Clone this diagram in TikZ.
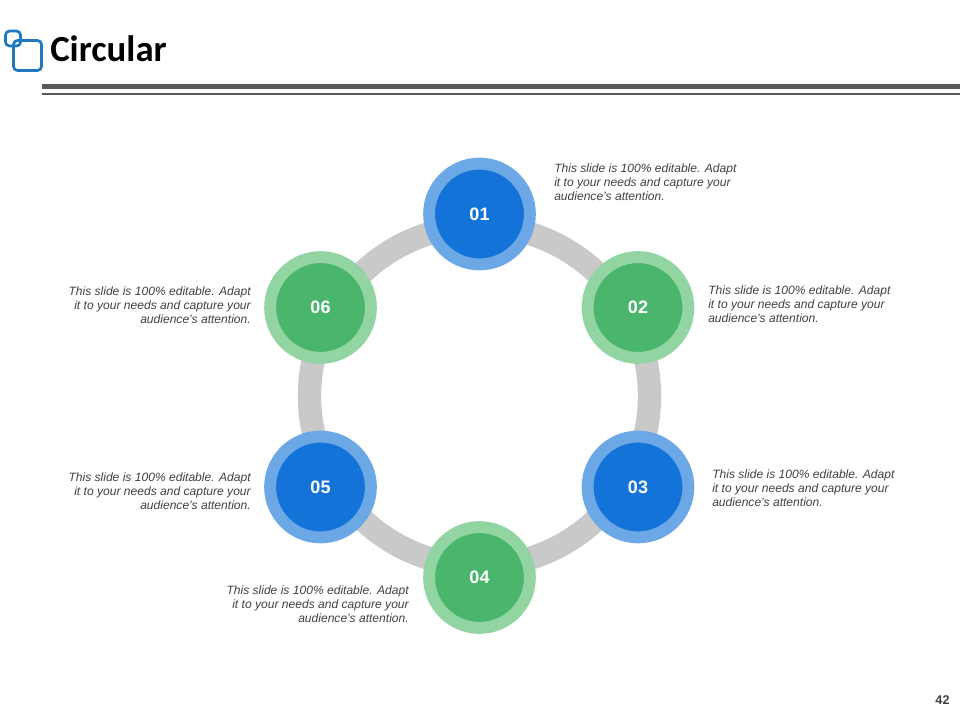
\documentclass[tikz,border=0pt]{standalone}
\usepackage{fontspec}
\setmainfont{Liberation Sans}
\newfontfamily\titlefont{Carlito}
\definecolor{ringgray}{HTML}{C9C9C9}
\definecolor{blueout}{HTML}{6CA8E6}
\definecolor{bluein}{HTML}{1473D8}
\definecolor{greenout}{HTML}{93D5A2}
\definecolor{greenin}{HTML}{4AB56C}
\definecolor{rulegray}{HTML}{595959}
\definecolor{icon}{HTML}{1F78C1}
\definecolor{bodytext}{HTML}{404040}
\tikzset{
  disc/.style={circle,inner sep=0pt,minimum size=75.6pt,line width=8.9pt,text=white,font=\bfseries\fontsize{13.5}{15}\selectfont},
  bluedisc/.style={disc,draw=blueout,fill=bluein},
  greendisc/.style={disc,draw=greenout,fill=greenin},
  note/.style={inner sep=0pt,text=bodytext,font=\itshape\fontsize{9.05}{10.5}\selectfont},
  noteleft/.style={note,anchor=west,align=left},
  noteright/.style={note,anchor=east,align=right},
  iconbox/.style={draw=icon,line width=2pt,rounded corners=3pt},
  rulebar/.style={fill=rulegray,draw=none}
}
\begin{document}
\begin{tikzpicture}[x=0.75pt,y=-0.75pt]
\useasboundingbox (0,0) rectangle (960,720);
% title block
\draw[iconbox] (13.5,40.5) rectangle (41.5,70.5);
\draw[iconbox] (5.5,31) rectangle (20.5,46);
\node[anchor=west,inner sep=0pt,font=\titlefont\bfseries\fontsize{27.6}{30}\selectfont] (title) at (50,49) {Circular};
\fill[rulebar] (42,84) rectangle (960,89);
\fill[rulebar] (42,92.6) rectangle (960,95);
% ring
\coordinate (hub) at (479.5,396);
\draw[ringgray,line width=17.5pt] (hub) circle [radius=170];
% discs
\node[bluedisc] (n1) at (479.5,214) {01};
\node[greendisc] (n2) at (638,307.5) {02};
\node[bluedisc] (n3) at (638,487) {03};
\node[greendisc] (n4) at (479.5,577.5) {04};
\node[bluedisc] (n5) at (320.5,487) {05};
\node[greendisc] (n6) at (320.5,307.5) {06};
% notes
\node[noteleft] (t1) at (554,182) {This slide is 100\% editable. Adapt\\it to your needs and capture your\\audience's attention.};
\node[noteleft] (t2) at (708,304) {This slide is 100\% editable. Adapt\\it to your needs and capture your\\audience's attention.};
\node[noteleft] (t3) at (712,488) {This slide is 100\% editable. Adapt\\it to your needs and capture your\\audience's attention.};
\node[noteright] (t4) at (409,604) {This slide is 100\% editable. Adapt\\it to your needs and capture your\\audience's attention.};
\node[noteright] (t5) at (251,491) {This slide is 100\% editable. Adapt\\it to your needs and capture your\\audience's attention.};
\node[noteright] (t6) at (251,305) {This slide is 100\% editable. Adapt\\it to your needs and capture your\\audience's attention.};
% page number
\node[inner sep=0pt,text=bodytext,font=\bfseries\fontsize{9.5}{11}\selectfont] (page) at (942.5,700) {42};
\end{tikzpicture}
\end{document}
